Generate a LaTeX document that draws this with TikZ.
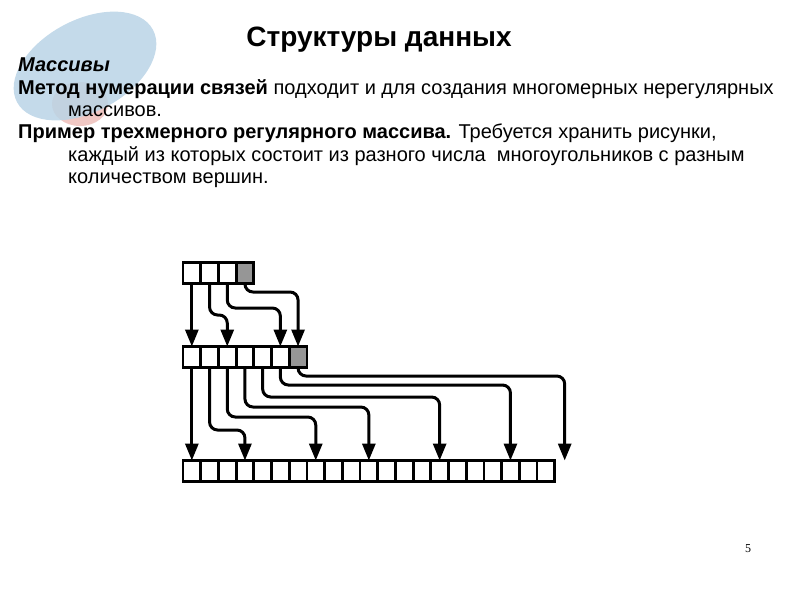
\documentclass[tikz,border=0pt]{standalone}
\usepackage{fontspec}
\setmainfont{Liberation Sans}
\newfontfamily\pagefont{Liberation Serif}
\usetikzlibrary{positioning,arrows.meta}
\definecolor{cellgray}{RGB}{150,150,150}
\definecolor{blobblue}{RGB}{186,212,230}
\definecolor{blobpink}{RGB}{240,200,196}
\tikzset{
  cell/.style={rectangle,draw=black,line width=2.8pt,outer sep=0pt,inner sep=0pt,
    minimum width=17.7pt,minimum height=21pt},
  endcell/.style={cell,fill=cellgray},
  link/.style={-{Triangle[length=17pt,width=13pt]},line width=3pt,rounded corners=8pt},
  txt/.style={anchor=base west,inner sep=0pt,font=\fontsize{20}{22}\selectfont},
}

\begin{document}
\begin{tikzpicture}[x=1pt,y=-1pt]
  \useasboundingbox (0,0) rectangle (794,595);
  % decoration in the corner
  \fill[blobpink] (80,104) ellipse [x radius=28, y radius=22];
  \fill[blobblue,fill opacity=0.85,rotate around={28:(85,66)}] (85,66) ellipse [x radius=77, y radius=46];

  % heading and text
  \node[font=\fontsize{28}{32}\selectfont\bfseries] (title) at (379,40) {Структуры данных};
  \node[txt] (l1) at (18,71) {\textbf{\textit{Массивы}}};
  \node[txt] (l2) at (18,94) {\textbf{Метод нумерации связей} подходит и для создания многомерных нерегулярных};
  \node[txt] (l3) at (68,116) {массивов.};
  \node[txt] (l4) at (18,138) {\textbf{Пример трехмерного регулярного массива.} Требуется хранить рисунки,};
  \node[txt] (l5) at (68,161) {каждый из которых состоит из разного числа\ \ многоугольников с разным};
  \node[txt] (l6) at (68,183) {количеством вершин.};

  % arrays
  \node[cell] (top1) at (191.85,273) {};
  \foreach \i [count=\j from 2] in {1,...,2}
    \node[cell,right=0pt of top\i] (top\j) {};
  \node[endcell,right=0pt of top3] (top4) {};

  \node[cell] (mid1) at (191.85,357) {};
  \foreach \i [count=\j from 2] in {1,...,5}
    \node[cell,right=0pt of mid\i] (mid\j) {};
  \node[endcell,right=0pt of mid6] (mid7) {};

  \node[cell] (bot1) at (191.85,471) {};
  \foreach \i [count=\j from 2] in {1,...,20}
    \node[cell,right=0pt of bot\i] (bot\j) {};
  \coordinate[xshift=10pt] (botend) at (bot21.north east);

  % links top -> mid
  \draw[link] (top1.south) -- (mid1.north);
  \draw[link] (top2.south) |- ([yshift=31.5pt]mid3.north) -- (mid3.north);
  \draw[link] (top3.south) |- ([yshift=38.5pt]mid6.north) -- (mid6.north);
  \draw[link] (top4.south) |- ([yshift=54.5pt]mid7.north) -- (mid7.north);

  % links mid -> bot
  \draw[link] (mid1.south) -- (bot1.north);
  \draw[link] (mid2.south) |- ([yshift=30.5pt]bot4.north) -- (bot4.north);
  \draw[link] (mid3.south) |- ([yshift=43.5pt]bot8.north) -- (bot8.north);
  \draw[link] (mid4.south) |- ([yshift=53.5pt]bot11.north) -- (bot11.north);
  \draw[link] (mid5.south) |- ([yshift=63.5pt]bot15.north) -- (bot15.north);
  \draw[link] (mid6.south) |- ([yshift=75.5pt]bot19.north) -- (bot19.north);
  \draw[link] (mid7.south) |- ([yshift=84.5pt]botend) -- (botend);

  \node[font=\pagefont\fontsize{12}{14}\selectfont] (pagenum) at (748,549) {5};
\end{tikzpicture}
\end{document}
